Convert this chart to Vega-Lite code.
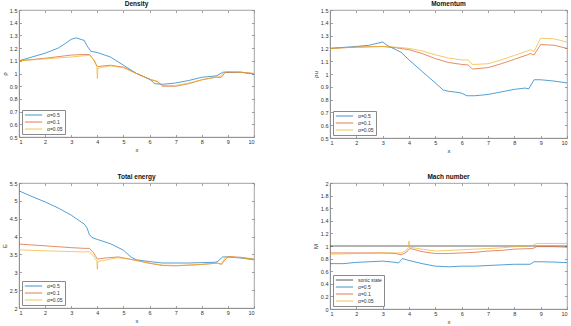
{
"$schema":"https://vega.github.io/schema/vega-lite/v6.json",
"padding":{"left":0,"top":0,"right":0,"bottom":0},
"background":"white",
"config":{
 "font":"Liberation Sans",
 "view":{"stroke":"#8a8a8a","strokeWidth":0.8},
 "axis":{"domainColor":"#8a8a8a","domainWidth":0.8,"tickColor":"#8a8a8a","tickWidth":0.8,"tickSize":-2.5,"labelPadding":4.5,"labelColor":"#333","labelFont":"Liberation Sans","labelFontSize":5.5,"titleFont":"Liberation Sans","titleFontSize":6,"titleFontWeight":"normal","titleColor":"#333","titlePadding":2,"grid":false},
 "legend":{"orient":"bottom-left","offset":3,"fillColor":"white","strokeColor":"#8a8a8a","padding":2,"symbolType":"stroke","symbolSize":300,"symbolStrokeWidth":1,"clipHeight":6,"labelFontSize":5,"labelFont":"Liberation Sans","labelColor":"#333","rowPadding":1,"title":null},
 "title":{"fontSize":6.5,"fontWeight":"bold","font":"Liberation Sans","color":"#111","offset":1},
 "concat":{"spacing":0}
},
"datasets":{
 "density":[
  {"s":"α=0.5","x":1,"y":1.10},{"s":"α=0.5","x":1.5,"y":1.13},{"s":"α=0.5","x":2,"y":1.16},{"s":"α=0.5","x":2.5,"y":1.20},{"s":"α=0.5","x":2.8,"y":1.24},{"s":"α=0.5","x":3,"y":1.27},{"s":"α=0.5","x":3.2,"y":1.28},{"s":"α=0.5","x":3.5,"y":1.26},{"s":"α=0.5","x":3.6,"y":1.22},{"s":"α=0.5","x":3.75,"y":1.175},{"s":"α=0.5","x":4,"y":1.165},{"s":"α=0.5","x":4.5,"y":1.13},{"s":"α=0.5","x":5,"y":1.065},{"s":"α=0.5","x":5.5,"y":1.0},{"s":"α=0.5","x":6,"y":0.955},{"s":"α=0.5","x":6.2,"y":0.92},{"s":"α=0.5","x":6.5,"y":0.915},{"s":"α=0.5","x":7,"y":0.925},{"s":"α=0.5","x":7.5,"y":0.945},{"s":"α=0.5","x":8,"y":0.97},{"s":"α=0.5","x":8.5,"y":0.98},{"s":"α=0.5","x":8.6,"y":0.985},{"s":"α=0.5","x":8.8,"y":1.01},{"s":"α=0.5","x":9,"y":1.01},{"s":"α=0.5","x":9.5,"y":1.01},{"s":"α=0.5","x":10,"y":0.995},
  {"s":"α=0.1","x":1,"y":1.10},{"s":"α=0.1","x":2,"y":1.12},{"s":"α=0.1","x":3,"y":1.145},{"s":"α=0.1","x":3.5,"y":1.15},{"s":"α=0.1","x":3.7,"y":1.15},{"s":"α=0.1","x":3.85,"y":1.11},{"s":"α=0.1","x":3.98,"y":1.06},{"s":"α=0.1","x":4.02,"y":1.055},{"s":"α=0.1","x":4.5,"y":1.065},{"s":"α=0.1","x":5,"y":1.05},{"s":"α=0.1","x":5.5,"y":1.0},{"s":"α=0.1","x":6,"y":0.955},{"s":"α=0.1","x":6.3,"y":0.935},{"s":"α=0.1","x":6.5,"y":0.90},{"s":"α=0.1","x":7,"y":0.90},{"s":"α=0.1","x":7.5,"y":0.92},{"s":"α=0.1","x":8,"y":0.95},{"s":"α=0.1","x":8.5,"y":0.97},{"s":"α=0.1","x":8.75,"y":0.97},{"s":"α=0.1","x":8.9,"y":1.01},{"s":"α=0.1","x":9,"y":1.01},{"s":"α=0.1","x":9.5,"y":1.01},{"s":"α=0.1","x":10,"y":1.0},
  {"s":"α=0.05","x":1,"y":1.10},{"s":"α=0.05","x":2,"y":1.115},{"s":"α=0.05","x":3,"y":1.13},{"s":"α=0.05","x":3.5,"y":1.14},{"s":"α=0.05","x":3.7,"y":1.145},{"s":"α=0.05","x":3.9,"y":1.10},{"s":"α=0.05","x":3.98,"y":1.06},{"s":"α=0.05","x":4.0,"y":0.96},{"s":"α=0.05","x":4.02,"y":1.04},{"s":"α=0.05","x":4.2,"y":1.05},{"s":"α=0.05","x":4.5,"y":1.06},{"s":"α=0.05","x":5,"y":1.045},{"s":"α=0.05","x":5.5,"y":1.0},{"s":"α=0.05","x":6,"y":0.955},{"s":"α=0.05","x":6.3,"y":0.94},{"s":"α=0.05","x":6.5,"y":0.905},{"s":"α=0.05","x":7,"y":0.905},{"s":"α=0.05","x":7.5,"y":0.925},{"s":"α=0.05","x":8,"y":0.95},{"s":"α=0.05","x":8.5,"y":0.97},{"s":"α=0.05","x":8.7,"y":0.975},{"s":"α=0.05","x":8.85,"y":1.01},{"s":"α=0.05","x":9,"y":1.015},{"s":"α=0.05","x":9.5,"y":1.01},{"s":"α=0.05","x":10,"y":1.0}
 ],
 "momentum":[
  {"s":"α=0.5","x":1,"y":1.20},{"s":"α=0.5","x":2,"y":1.215},{"s":"α=0.5","x":2.5,"y":1.225},{"s":"α=0.5","x":3,"y":1.25},{"s":"α=0.5","x":3.2,"y":1.22},{"s":"α=0.5","x":3.5,"y":1.19},{"s":"α=0.5","x":3.7,"y":1.17},{"s":"α=0.5","x":4,"y":1.11},{"s":"α=0.5","x":4.5,"y":1.02},{"s":"α=0.5","x":5,"y":0.93},{"s":"α=0.5","x":5.3,"y":0.875},{"s":"α=0.5","x":5.5,"y":0.865},{"s":"α=0.5","x":5.9,"y":0.855},{"s":"α=0.5","x":6,"y":0.85},{"s":"α=0.5","x":6.2,"y":0.83},{"s":"α=0.5","x":6.5,"y":0.83},{"s":"α=0.5","x":7,"y":0.84},{"s":"α=0.5","x":7.5,"y":0.86},{"s":"α=0.5","x":8,"y":0.88},{"s":"α=0.5","x":8.4,"y":0.89},{"s":"α=0.5","x":8.55,"y":0.885},{"s":"α=0.5","x":8.75,"y":0.955},{"s":"α=0.5","x":9,"y":0.955},{"s":"α=0.5","x":9.5,"y":0.945},{"s":"α=0.5","x":10,"y":0.93},
  {"s":"α=0.1","x":1,"y":1.20},{"s":"α=0.1","x":2,"y":1.21},{"s":"α=0.1","x":3,"y":1.215},{"s":"α=0.1","x":3.5,"y":1.205},{"s":"α=0.1","x":4,"y":1.19},{"s":"α=0.1","x":4.5,"y":1.16},{"s":"α=0.1","x":5,"y":1.12},{"s":"α=0.1","x":5.5,"y":1.09},{"s":"α=0.1","x":6,"y":1.075},{"s":"α=0.1","x":6.25,"y":1.07},{"s":"α=0.1","x":6.4,"y":1.04},{"s":"α=0.1","x":6.5,"y":1.04},{"s":"α=0.1","x":7,"y":1.05},{"s":"α=0.1","x":7.5,"y":1.08},{"s":"α=0.1","x":8,"y":1.115},{"s":"α=0.1","x":8.5,"y":1.15},{"s":"α=0.1","x":8.6,"y":1.16},{"s":"α=0.1","x":8.75,"y":1.15},{"s":"α=0.1","x":9,"y":1.23},{"s":"α=0.1","x":9.5,"y":1.225},{"s":"α=0.1","x":10,"y":1.20},
  {"s":"α=0.05","x":1,"y":1.20},{"s":"α=0.05","x":2,"y":1.21},{"s":"α=0.05","x":3,"y":1.215},{"s":"α=0.05","x":3.5,"y":1.21},{"s":"α=0.05","x":4,"y":1.20},{"s":"α=0.05","x":4.5,"y":1.18},{"s":"α=0.05","x":5,"y":1.15},{"s":"α=0.05","x":5.5,"y":1.125},{"s":"α=0.05","x":6,"y":1.11},{"s":"α=0.05","x":6.25,"y":1.11},{"s":"α=0.05","x":6.4,"y":1.075},{"s":"α=0.05","x":6.5,"y":1.075},{"s":"α=0.05","x":7,"y":1.08},{"s":"α=0.05","x":7.5,"y":1.11},{"s":"α=0.05","x":8,"y":1.145},{"s":"α=0.05","x":8.5,"y":1.18},{"s":"α=0.05","x":8.6,"y":1.19},{"s":"α=0.05","x":8.75,"y":1.175},{"s":"α=0.05","x":9,"y":1.28},{"s":"α=0.05","x":9.5,"y":1.275},{"s":"α=0.05","x":10,"y":1.25}
 ],
 "energy":[
  {"s":"α=0.5","x":1,"y":5.28},{"s":"α=0.5","x":1.5,"y":5.12},{"s":"α=0.5","x":2,"y":4.97},{"s":"α=0.5","x":2.5,"y":4.80},{"s":"α=0.5","x":3,"y":4.60},{"s":"α=0.5","x":3.5,"y":4.35},{"s":"α=0.5","x":3.6,"y":4.25},{"s":"α=0.5","x":3.7,"y":4.05},{"s":"α=0.5","x":3.8,"y":3.97},{"s":"α=0.5","x":4,"y":3.92},{"s":"α=0.5","x":4.5,"y":3.80},{"s":"α=0.5","x":5,"y":3.62},{"s":"α=0.5","x":5.3,"y":3.42},{"s":"α=0.5","x":5.5,"y":3.35},{"s":"α=0.5","x":6,"y":3.30},{"s":"α=0.5","x":6.5,"y":3.26},{"s":"α=0.5","x":7,"y":3.26},{"s":"α=0.5","x":7.5,"y":3.26},{"s":"α=0.5","x":8,"y":3.27},{"s":"α=0.5","x":8.5,"y":3.28},{"s":"α=0.5","x":8.6,"y":3.30},{"s":"α=0.5","x":8.8,"y":3.43},{"s":"α=0.5","x":9,"y":3.43},{"s":"α=0.5","x":9.5,"y":3.40},{"s":"α=0.5","x":10,"y":3.35},
  {"s":"α=0.1","x":1,"y":3.79},{"s":"α=0.1","x":2,"y":3.74},{"s":"α=0.1","x":3,"y":3.69},{"s":"α=0.1","x":3.5,"y":3.67},{"s":"α=0.1","x":3.7,"y":3.67},{"s":"α=0.1","x":3.85,"y":3.55},{"s":"α=0.1","x":4,"y":3.37},{"s":"α=0.1","x":4.3,"y":3.40},{"s":"α=0.1","x":4.8,"y":3.43},{"s":"α=0.1","x":5.3,"y":3.36},{"s":"α=0.1","x":6,"y":3.25},{"s":"α=0.1","x":6.5,"y":3.19},{"s":"α=0.1","x":7,"y":3.18},{"s":"α=0.1","x":7.5,"y":3.20},{"s":"α=0.1","x":8,"y":3.22},{"s":"α=0.1","x":8.5,"y":3.25},{"s":"α=0.1","x":8.6,"y":3.26},{"s":"α=0.1","x":8.75,"y":3.22},{"s":"α=0.1","x":9,"y":3.44},{"s":"α=0.1","x":9.5,"y":3.42},{"s":"α=0.1","x":10,"y":3.37},
  {"s":"α=0.05","x":1,"y":3.63},{"s":"α=0.05","x":2,"y":3.60},{"s":"α=0.05","x":3,"y":3.58},{"s":"α=0.05","x":3.5,"y":3.57},{"s":"α=0.05","x":3.7,"y":3.58},{"s":"α=0.05","x":3.85,"y":3.45},{"s":"α=0.05","x":3.98,"y":3.32},{"s":"α=0.05","x":4.0,"y":3.08},{"s":"α=0.05","x":4.02,"y":3.30},{"s":"α=0.05","x":4.3,"y":3.34},{"s":"α=0.05","x":4.8,"y":3.41},{"s":"α=0.05","x":5.3,"y":3.36},{"s":"α=0.05","x":6,"y":3.26},{"s":"α=0.05","x":6.5,"y":3.20},{"s":"α=0.05","x":7,"y":3.19},{"s":"α=0.05","x":7.5,"y":3.20},{"s":"α=0.05","x":8,"y":3.22},{"s":"α=0.05","x":8.5,"y":3.25},{"s":"α=0.05","x":8.75,"y":3.24},{"s":"α=0.05","x":8.9,"y":3.42},{"s":"α=0.05","x":9,"y":3.43},{"s":"α=0.05","x":9.5,"y":3.41},{"s":"α=0.05","x":10,"y":3.36}
 ],
 "mach":[
  {"s":"sonic state","x":1,"y":1},{"s":"sonic state","x":10,"y":1},
  {"s":"α=0.5","x":1,"y":0.72},{"s":"α=0.5","x":1.5,"y":0.72},{"s":"α=0.5","x":2,"y":0.74},{"s":"α=0.5","x":3,"y":0.76},{"s":"α=0.5","x":3.5,"y":0.74},{"s":"α=0.5","x":3.6,"y":0.73},{"s":"α=0.5","x":3.75,"y":0.80},{"s":"α=0.5","x":4,"y":0.77},{"s":"α=0.5","x":4.5,"y":0.72},{"s":"α=0.5","x":5,"y":0.68},{"s":"α=0.5","x":5.5,"y":0.67},{"s":"α=0.5","x":6,"y":0.68},{"s":"α=0.5","x":6.5,"y":0.68},{"s":"α=0.5","x":7,"y":0.69},{"s":"α=0.5","x":7.5,"y":0.70},{"s":"α=0.5","x":8,"y":0.71},{"s":"α=0.5","x":8.6,"y":0.71},{"s":"α=0.5","x":8.75,"y":0.75},{"s":"α=0.5","x":9,"y":0.75},{"s":"α=0.5","x":9.5,"y":0.745},{"s":"α=0.5","x":10,"y":0.735},
  {"s":"α=0.1","x":1,"y":0.89},{"s":"α=0.1","x":2,"y":0.89},{"s":"α=0.1","x":3,"y":0.89},{"s":"α=0.1","x":3.5,"y":0.88},{"s":"α=0.1","x":3.7,"y":0.86},{"s":"α=0.1","x":3.9,"y":0.90},{"s":"α=0.1","x":4,"y":0.95},{"s":"α=0.1","x":4.05,"y":0.96},{"s":"α=0.1","x":4.5,"y":0.91},{"s":"α=0.1","x":5,"y":0.88},{"s":"α=0.1","x":5.5,"y":0.88},{"s":"α=0.1","x":6,"y":0.89},{"s":"α=0.1","x":6.5,"y":0.90},{"s":"α=0.1","x":7,"y":0.92},{"s":"α=0.1","x":7.5,"y":0.93},{"s":"α=0.1","x":8,"y":0.95},{"s":"α=0.1","x":8.7,"y":0.96},{"s":"α=0.1","x":8.85,"y":0.99},{"s":"α=0.1","x":9,"y":0.99},{"s":"α=0.1","x":9.5,"y":0.99},{"s":"α=0.1","x":10,"y":0.98},
  {"s":"α=0.05","x":1,"y":0.87},{"s":"α=0.05","x":2,"y":0.88},{"s":"α=0.05","x":3,"y":0.89},{"s":"α=0.05","x":3.5,"y":0.89},{"s":"α=0.05","x":3.7,"y":0.89},{"s":"α=0.05","x":3.9,"y":0.93},{"s":"α=0.05","x":3.98,"y":0.98},{"s":"α=0.05","x":4.0,"y":1.08},{"s":"α=0.05","x":4.02,"y":0.98},{"s":"α=0.05","x":4.5,"y":0.95},{"s":"α=0.05","x":5,"y":0.92},{"s":"α=0.05","x":5.5,"y":0.93},{"s":"α=0.05","x":6,"y":0.94},{"s":"α=0.05","x":6.5,"y":0.95},{"s":"α=0.05","x":7,"y":0.96},{"s":"α=0.05","x":7.5,"y":0.97},{"s":"α=0.05","x":8,"y":0.99},{"s":"α=0.05","x":8.7,"y":1.01},{"s":"α=0.05","x":8.85,"y":1.04},{"s":"α=0.05","x":9,"y":1.04},{"s":"α=0.05","x":9.5,"y":1.04},{"s":"α=0.05","x":10,"y":1.04}
 ]
},
"vconcat":[
 {"hconcat":[
  {"width":235,"height":127,"title":"Density","data":{"name":"density"},
   "layer":[
    {"mark":{"type":"line","strokeWidth":0.9,"opacity":0.75},
     "encoding":{
      "x":{"field":"x","type":"quantitative","scale":{"domain":[1,10],"nice":false},"axis":{"title":"x","values":[1,2,3,4,5,6,7,8,9,10]}},
      "y":{"field":"y","type":"quantitative","scale":{"domain":[0.5,1.5],"nice":false,"zero":false},"axis":{"title":"ρ","values":[0.5,0.6,0.7,0.8,0.9,1,1.1,1.2,1.3,1.4,1.5],"format":".1~f"}},
      "color":{"field":"s","type":"nominal","scale":{"domain":["α=0.5","α=0.1","α=0.05"],"range":["#0072BD","#D95319","#EDB120"]}}}},
    {"mark":{"type":"line","opacity":0},
     "encoding":{
      "x":{"field":"x","type":"quantitative","axis":{"orient":"top","labels":false,"title":null,"domain":false,"values":[1,2,3,4,5,6,7,8,9,10]}},
      "y":{"field":"y","type":"quantitative","axis":{"orient":"right","labels":false,"title":null,"domain":false,"values":[0.5,0.6,0.7,0.8,0.9,1,1.1,1.2,1.3,1.4,1.5]}}}}
   ],
   "resolve":{"axis":{"x":"independent","y":"independent"}}},
  {"width":237,"height":128,"title":"Momentum","data":{"name":"momentum"},
   "layer":[
    {"mark":{"type":"line","strokeWidth":0.9,"opacity":0.75},
     "encoding":{
      "x":{"field":"x","type":"quantitative","scale":{"domain":[1,10],"nice":false},"axis":{"title":"x","values":[1,2,3,4,5,6,7,8,9,10]}},
      "y":{"field":"y","type":"quantitative","scale":{"domain":[0.5,1.5],"nice":false,"zero":false},"axis":{"title":"ρu","values":[0.5,0.6,0.7,0.8,0.9,1,1.1,1.2,1.3,1.4,1.5],"format":".1~f"}},
      "color":{"field":"s","type":"nominal","scale":{"domain":["α=0.5","α=0.1","α=0.05"],"range":["#0072BD","#D95319","#EDB120"]}}}},
    {"mark":{"type":"line","opacity":0},
     "encoding":{
      "x":{"field":"x","type":"quantitative","axis":{"orient":"top","labels":false,"title":null,"domain":false,"values":[1,2,3,4,5,6,7,8,9,10]}},
      "y":{"field":"y","type":"quantitative","axis":{"orient":"right","labels":false,"title":null,"domain":false,"values":[0.5,0.6,0.7,0.8,0.9,1,1.1,1.2,1.3,1.4,1.5]}}}}
   ],
   "resolve":{"axis":{"x":"independent","y":"independent"}}}
 ],"spacing":54,"resolve":{"scale":{"color":"independent"},"legend":{"color":"independent"}}},
 {"hconcat":[
  {"width":235,"height":125,"title":"Total energy","data":{"name":"energy"},
   "layer":[
    {"mark":{"type":"line","strokeWidth":0.9,"opacity":0.75},
     "encoding":{
      "x":{"field":"x","type":"quantitative","scale":{"domain":[1,10],"nice":false},"axis":{"title":"x","values":[1,2,3,4,5,6,7,8,9,10]}},
      "y":{"field":"y","type":"quantitative","scale":{"domain":[2,5.5],"nice":false,"zero":false},"axis":{"title":"E","values":[2,2.5,3,3.5,4,4.5,5,5.5],"format":"~g"}},
      "color":{"field":"s","type":"nominal","scale":{"domain":["α=0.5","α=0.1","α=0.05"],"range":["#0072BD","#D95319","#EDB120"]}}}},
    {"mark":{"type":"line","opacity":0},
     "encoding":{
      "x":{"field":"x","type":"quantitative","axis":{"orient":"top","labels":false,"title":null,"domain":false,"values":[1,2,3,4,5,6,7,8,9,10]}},
      "y":{"field":"y","type":"quantitative","axis":{"orient":"right","labels":false,"title":null,"domain":false,"values":[2,2.5,3,3.5,4,4.5,5,5.5]}}}}
   ],
   "resolve":{"axis":{"x":"independent","y":"independent"}}},
  {"width":237,"height":126,"title":"Mach number","data":{"name":"mach"},
   "layer":[
    {"mark":{"type":"line","strokeWidth":0.9,"opacity":0.75},
     "encoding":{
      "x":{"field":"x","type":"quantitative","scale":{"domain":[1,10],"nice":false},"axis":{"title":"x","values":[1,2,3,4,5,6,7,8,9,10]}},
      "y":{"field":"y","type":"quantitative","scale":{"domain":[0,2],"nice":false,"zero":false},"axis":{"title":"M","values":[0,0.2,0.4,0.6,0.8,1,1.2,1.4,1.6,1.8,2],"format":".1~f"}},
      "color":{"field":"s","type":"nominal","scale":{"domain":["sonic state","α=0.5","α=0.1","α=0.05"],"range":["#222222","#0072BD","#D95319","#EDB120"]}}}},
    {"mark":{"type":"line","opacity":0},
     "encoding":{
      "x":{"field":"x","type":"quantitative","axis":{"orient":"top","labels":false,"title":null,"domain":false,"values":[1,2,3,4,5,6,7,8,9,10]}},
      "y":{"field":"y","type":"quantitative","axis":{"orient":"right","labels":false,"title":null,"domain":false,"values":[0,0.2,0.4,0.6,0.8,1,1.2,1.4,1.6,1.8,2]}}}}
   ],
   "resolve":{"axis":{"x":"independent","y":"independent"}}}
 ],"spacing":54,"resolve":{"scale":{"color":"independent"},"legend":{"color":"independent"}}}
],
"spacing":19,
"resolve":{"scale":{"color":"independent"},"legend":{"color":"independent"}}
}
